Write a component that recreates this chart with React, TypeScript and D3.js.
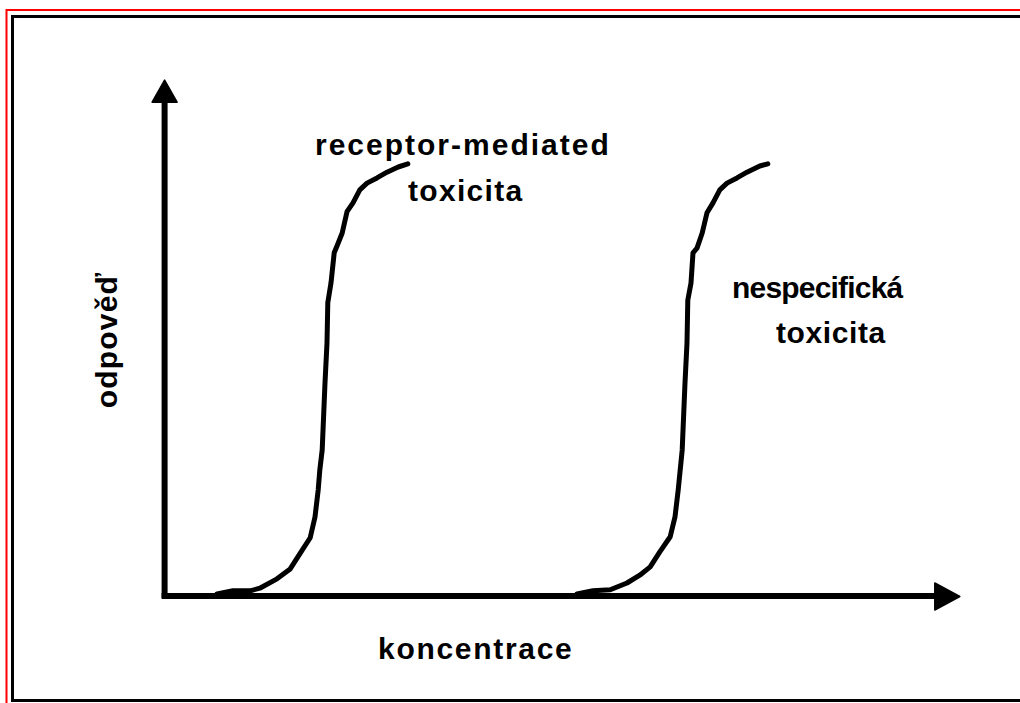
import React from "react";
import * as d3 from "d3";

// Receptor-mediated toxicity curve (concentration units 0-100, response 0-100)
const receptorX = [6.75, 8.75, 10.9, 12.1, 14.25, 15.9, 17.1, 18.4, 19.0, 19.4, 19.6, 19.9, 20.25, 20.5, 20.6, 21.0, 21.4, 21.75, 22.4, 23.0, 23.75, 24.6, 25.5, 26.75, 28.0, 29.4, 30.6];
const receptorY = [0.4, 1.0, 1.0, 1.5, 3.3, 5.2, 8.1, 11.2, 15.2, 20.4, 24.2, 28.1, 41.0, 48.7, 56.4, 60.2, 66.0, 67.3, 69.8, 73.9, 75.6, 78.1, 79.4, 80.4, 81.5, 82.5, 83.1];

// Non-specific toxicity curve
const nonspecX = [51.75, 53.75, 55.9, 58.0, 59.6, 60.9, 62.1, 63.4, 64.0, 64.4, 64.9, 65.25, 65.5, 65.6, 66.0, 66.25, 66.75, 67.4, 68.0, 68.75, 69.6, 70.5, 71.75, 73.0, 74.6, 75.6];
const nonspecY = [0.4, 1.0, 1.2, 2.5, 4.0, 5.6, 8.5, 11.4, 15.2, 20.4, 28.1, 41.0, 48.7, 56.9, 60.2, 66.0, 66.9, 69.8, 73.7, 75.6, 78.1, 79.4, 80.4, 81.5, 82.7, 83.1];

const xAxisLabel = "koncentrace";
const yAxisLabel = "odpověď";
const receptorLabel = ["receptor-mediated", "toxicita"];
const nonspecLabel = ["nespecifická", "toxicita"];

export default function App() {
  const W = 1020;
  const H = 703;
  const x = d3.scaleLinear().domain([0, 100]).range([163, 963]);
  const y = d3.scaleLinear().domain([0, 100]).range([596, 76]);

  const line = d3
    .line<[number, number]>()
    .x((d) => x(d[0]))
    .y((d) => y(d[1]))
    .curve(d3.curveLinear);

  const rec: [number, number][] = receptorX.map((v, i) => [v, receptorY[i]]);
  const non: [number, number][] = nonspecX.map((v, i) => [v, nonspecY[i]]);

  const ax = x(0.2); // y-axis position
  const ay = y(0); // x-axis position
  const yTip = y(99.2);
  const xTip = x(99.6);

  const font = "'Liberation Sans', Arial, Helvetica, sans-serif";

  return (
    <>
      <style>{`body{margin:0;}`}</style>
      <svg width={W} height={H} style={{ display: "block" }}>
        <rect x={0} y={0} width={W} height={H} fill="#fff" />
        {/* frame */}
        <path d={`M6.5,${H} V10 H${W}`} fill="none" stroke="#ff0000" strokeWidth={2} />
        <rect x={12.5} y={16.5} width={W} height={684} fill="none" stroke="#000" strokeWidth={3} />

        {/* axes */}
        <line x1={ax} y1={ay + 2} x2={ax} y2={yTip + 18} stroke="#000" strokeWidth={6} />
        <polygon
          points={`${ax},${yTip} ${ax - 12.5},${yTip + 22} ${ax + 12.5},${yTip + 22}`}
          fill="#000"
          stroke="#000"
          strokeWidth={1.5}
          strokeLinejoin="round"
        />
        <line x1={ax - 3} y1={ay} x2={xTip - 20} y2={ay} stroke="#000" strokeWidth={6} />
        <polygon
          points={`${xTip},${ay + 0.5} ${xTip - 25},${ay - 13} ${xTip - 25},${ay + 14}`}
          fill="#000"
          stroke="#000"
          strokeWidth={1.5}
          strokeLinejoin="round"
        />

        {/* curves */}
        <path d={line(rec) || ""} fill="none" stroke="#000" strokeWidth={5} strokeLinejoin="round" strokeLinecap="round" />
        <path d={line(non) || ""} fill="none" stroke="#000" strokeWidth={5} strokeLinejoin="round" strokeLinecap="round" />

        {/* labels */}
        <g fontFamily={font} fontWeight="bold" fontSize={30} fill="#000">
          <text x={315} y={155} letterSpacing={2}>{receptorLabel[0]}</text>
          <text x={408} y={201} letterSpacing={1.3}>{receptorLabel[1]}</text>
          <text x={732} y={298} letterSpacing={-0.8}>{nonspecLabel[0]}</text>
          <text x={776} y={343} letterSpacing={0.6}>{nonspecLabel[1]}</text>
          <text x={378} y={659} letterSpacing={1.7}>{xAxisLabel}</text>
          <text transform="translate(117,340) rotate(-90)" textAnchor="middle" letterSpacing={1.2}>
            {yAxisLabel}
          </text>
        </g>
      </svg>
    </>
  );
}
